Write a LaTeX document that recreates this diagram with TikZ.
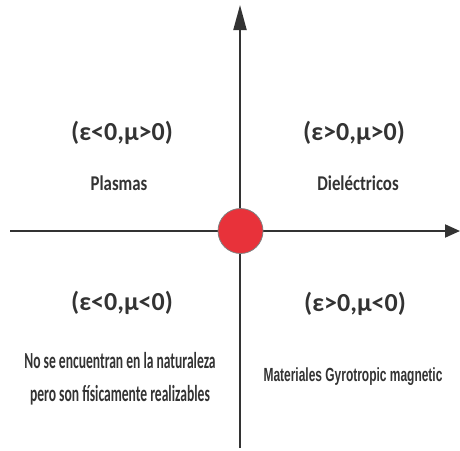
\documentclass[tikz,border=0pt]{standalone}
\usepackage{fontspec}
\usepackage{xcolor}
\usepackage{tikz}
\usetikzlibrary{arrows.meta}
\setmainfont{Carlito}
\newfontfamily\narrowfont[FakeStretch=0.59]{Carlito}
\newfontfamily\midfont[FakeStretch=0.8]{Carlito}
\newfontfamily\arialnarrow[FakeStretch=0.63]{Liberation Sans}
\definecolor{axisgray}{HTML}{333333}
\definecolor{dotred}{HTML}{E8323A}
\tikzset{
  head/.style={text=axisgray,font=\bfseries\fontsize{26}{28}\selectfont},
  kind/.style={text=axisgray,font=\midfont\bfseries\fontsize{21}{22}\selectfont},
  note/.style={text=axisgray,font=\narrowfont\bfseries\fontsize{23}{33}\selectfont,align=center},
}

\begin{document}
\begin{tikzpicture}[x=1pt,y=-1pt]
  \useasboundingbox (0,0) rectangle (460,450);
  \coordinate (xl) at (10,231); \coordinate (xr) at (460,231);
  \coordinate (yb) at (240,448); \coordinate (yt) at (240,5);
  \draw[axisgray,line width=2pt,-{Triangle[length=15pt,width=13pt]}] (xl) -- (xr);
  \draw[axisgray,line width=2pt,-{Triangle[length=25pt,width=13pt]}] (yb) -- (yt);
  \node[circle,draw=gray,line width=0.8pt,fill=dotred,minimum size=45pt,inner sep=0pt] (o) at (240.5,231) {};
  % cuadrantes
  \node[head] (h2) at (122,133) {(ε<0,μ>0)};
  \node[kind] (n2) at (119,183) {Plasmas};
  \node[head] (h1) at (354,133) {(ε>0,μ>0)};
  \node[kind] (n1) at (358,183) {Dieléctricos};
  \node[head] (h3) at (122,303) {(ε<0,μ<0)};
  \node[note] (n3) at (120,379) {No se encuentran en la naturaleza\\pero son físicamente realizables};
  \node[head] (h4) at (355,304) {(ε>0,μ<0)};
  \node[text=axisgray,font=\arialnarrow\bfseries\fontsize{19}{22}\selectfont] (n4) at (353,377) {Materiales Gyrotropic magnetic};
\end{tikzpicture}
\end{document}
